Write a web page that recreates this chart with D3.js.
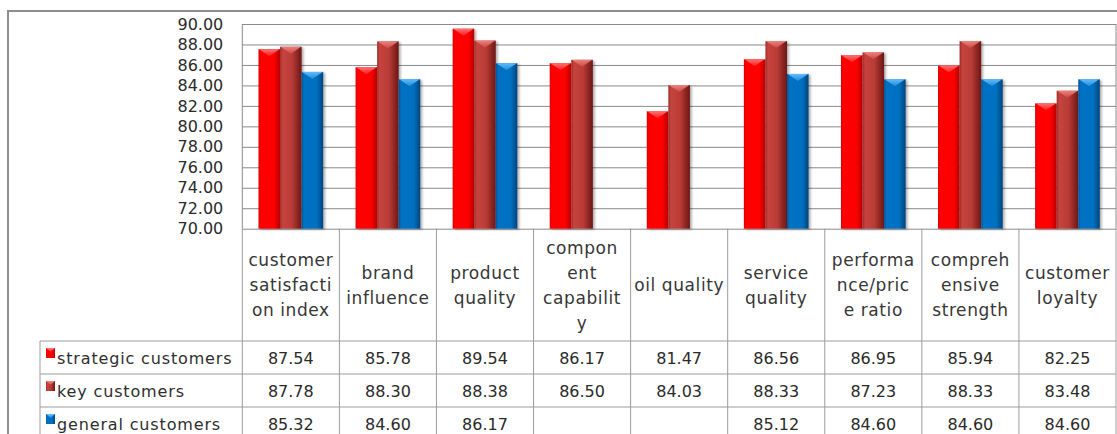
<!DOCTYPE html>
<html>
<head>
<meta charset="utf-8">
<script src="https://cdn.jsdelivr.net/npm/d3@7"></script>
<style>
  html, body { margin: 0; padding: 0; background: #fff; }
  svg { display: block; font-family: "DejaVu Sans", sans-serif; }
</style>
</head>
<body>
<svg id="chart" width="1117" height="434"></svg>
<script>
// ---- data ----
const categories = [
  "customer satisfaction index", "brand influence", "product quality",
  "component capability", "oil quality", "service quality",
  "performance/price ratio", "comprehensive strength", "customer loyalty"
];
// category labels as wrapped in the data-table header
const categoryLines = [
  ["customer", "satisfacti", "on index"],
  ["brand", "influence"],
  ["product", "quality"],
  ["compon", "ent", "capabilit", "y"],
  ["oil quality"],
  ["service", "quality"],
  ["performa", "nce/pric", "e ratio"],
  ["compreh", "ensive", "strength"],
  ["customer", "loyalty"]
];
const seriesNames = ["strategic customers", "key customers", "general customers"];
const strategicCustomers = [87.54, 85.78, 89.54, 86.17, 81.47, 86.56, 86.95, 85.94, 82.25];
const keyCustomers       = [87.78, 88.30, 88.38, 86.50, 84.03, 88.33, 87.23, 88.33, 83.48];
const generalCustomers   = [85.32, 84.60, 86.17, null, null, 85.12, 84.60, 84.60, 84.60];
const yTicks = [70, 72, 74, 76, 78, 80, 82, 84, 86, 88, 90];

const seriesValues = [strategicCustomers, keyCustomers, generalCustomers];

// ---- layout ----
const W = 1117, H = 434;
const plot = { left: 242.3, right: 1116, top: 24, bottom: 228.7 };
const table = { legendLeft: 40, headerBottom: 341, rowH: 33 };

const svg = d3.select("#chart");
const defs = svg.append("defs");

// bar shading per series: body gradient, top bevel colour
const palette = [
  { id: "s0", stops: [["0%", "#d80000"], ["10%", "#ff0000"], ["72%", "#ff0000"], ["100%", "#b40000"]], bevel: ["#ff8080", "#ff2020"] },
  { id: "s1", stops: [["0%", "#9c2a27"], ["12%", "#c6443f"], ["55%", "#b93b36"], ["100%", "#6c1715"]], bevel: ["#f08a85", "#cf4a45"] },
  { id: "s2", stops: [["0%", "#005596"], ["12%", "#0072c4"], ["70%", "#0070c0"], ["100%", "#00447a"]], bevel: ["#70c4ff", "#1a8ee0"] }
];
palette.forEach(p => {
  const g = defs.append("linearGradient").attr("id", "body-" + p.id)
    .attr("x1", "0%").attr("x2", "100%").attr("y1", "0%").attr("y2", "0%");
  p.stops.forEach(([o, c]) => g.append("stop").attr("offset", o).attr("stop-color", c));
  const b = defs.append("linearGradient").attr("id", "bevel-" + p.id)
    .attr("x1", "0%").attr("x2", "0%").attr("y1", "0%").attr("y2", "100%");
  b.append("stop").attr("offset", "0%").attr("stop-color", p.bevel[0]);
  b.append("stop").attr("offset", "100%").attr("stop-color", p.bevel[1]);
});
const shadow = defs.append("filter").attr("id", "barShadow")
  .attr("x", "-30%").attr("y", "-10%").attr("width", "160%").attr("height", "130%");
shadow.append("feDropShadow").attr("dx", 2).attr("dy", 1).attr("stdDeviation", 1.3)
  .attr("flood-color", "#000").attr("flood-opacity", 0.3);

// outer chart frame
svg.append("rect")
  .attr("x", 8).attr("y", 11).attr("width", W + 20).attr("height", H + 20)
  .attr("fill", "#fff").attr("stroke", "#8e8e8e").attr("stroke-width", 2);

// ---- scales ----
const x = d3.scaleBand().domain(categories).range([plot.left, plot.right]).paddingInner(0).paddingOuter(0);
const xs = d3.scaleBand().domain(seriesNames).range([0, x.bandwidth()]).paddingInner(0).paddingOuter(0.75);
const y = d3.scaleLinear().domain([70, 90]).range([plot.bottom, plot.top]);

// gridlines
const grid = svg.append("g").attr("transform", `translate(${plot.left},0)`)
  .call(d3.axisLeft(y).tickValues(yTicks).tickSize(-(plot.right - plot.left)).tickFormat(""));
grid.select(".domain").remove();
grid.selectAll(".tick line").attr("stroke", "#8a8a8a").attr("stroke-width", 1);

// y tick labels
const yAxis = svg.append("g").attr("transform", `translate(${plot.left},0)`)
  .call(d3.axisLeft(y).tickValues(yTicks).tickSize(0).tickPadding(19).tickFormat(d3.format(".2f")));
yAxis.select(".domain").remove();
yAxis.selectAll("text")
  .attr("font-family", "DejaVu Sans, sans-serif").attr("font-size", 16).attr("fill", "#2a2a2a");

// plot frame sides
svg.append("line").attr("x1", plot.left).attr("x2", plot.left).attr("y1", plot.top).attr("y2", plot.bottom)
  .attr("stroke", "#8a8a8a");
svg.append("line").attr("x1", plot.right).attr("x2", plot.right).attr("y1", plot.top).attr("y2", plot.bottom)
  .attr("stroke", "#8a8a8a");

// ---- bars ----
const barData = [];
categories.forEach((c, i) => {
  seriesNames.forEach((s, j) => {
    const v = seriesValues[j][i];
    if (v != null) barData.push({ c, s, j, v });
  });
});
const bars = svg.append("g").selectAll("g.bar").data(barData).join("g").attr("class", "bar");
bars.append("rect")
  .attr("x", d => x(d.c) + xs(d.s))
  .attr("y", d => y(d.v))
  .attr("width", xs.bandwidth())
  .attr("height", d => y(70) - y(d.v))
  .attr("fill", d => `url(#body-${palette[d.j].id})`)
  .attr("filter", "url(#barShadow)");
bars.append("path")
  .attr("d", d => {
    const x0 = x(d.c) + xs(d.s), w = xs.bandwidth(), y0 = y(d.v);
    return `M${x0 + 0.5},${y0}L${x0 + w - 0.5},${y0}L${x0 + w / 2},${y0 + 7}Z`;
  })
  .attr("fill", d => `url(#bevel-${palette[d.j].id})`)
  .attr("opacity", 0.9);

// ---- data table ----
const lineColor = "#9c9c9c";
const tbl = svg.append("g");
const tableBottom = table.headerBottom + 3 * table.rowH;
// column separators
[...categories.map(c => x(c)), plot.right].forEach(xx => {
  tbl.append("line").attr("x1", xx).attr("x2", xx).attr("y1", plot.bottom).attr("y2", tableBottom)
    .attr("stroke", lineColor);
});
// row separators
d3.range(3).forEach(r => {
  const yy = table.headerBottom + r * table.rowH;
  tbl.append("line").attr("x1", table.legendLeft).attr("x2", plot.right).attr("y1", yy).attr("y2", yy)
    .attr("stroke", lineColor);
});
tbl.append("line").attr("x1", table.legendLeft).attr("x2", table.legendLeft)
  .attr("y1", table.headerBottom).attr("y2", tableBottom).attr("stroke", lineColor);

// header labels
const lineH = 25;
const headerMid = (plot.bottom + table.headerBottom) / 2 + 0.5;
categories.forEach((c, i) => {
  const lines = categoryLines[i];
  const t = tbl.append("text")
    .attr("text-anchor", "middle")
    .attr("font-size", 17).attr("letter-spacing", 0.6).attr("fill", "#363636");
  lines.forEach((ln, k) => {
    t.append("tspan")
      .attr("x", x(c) + x.bandwidth() / 2)
      .attr("y", headerMid + (k - (lines.length - 1) / 2) * lineH)
      .attr("dominant-baseline", "central")
      .text(ln);
  });
});

// series rows
seriesNames.forEach((s, j) => {
  const top = table.headerBottom + j * table.rowH;
  const cy = top + table.rowH / 2 + 0.5;
  tbl.append("rect")
    .attr("x", 46).attr("y", top + 7).attr("width", 9).attr("height", 10)
    .attr("fill", `url(#body-${palette[j].id})`);
  tbl.append("path")
    .attr("d", `M46,${top + 7}L55,${top + 7}L50.5,${top + 11}Z`)
    .attr("fill", `url(#bevel-${palette[j].id})`);
  tbl.append("text")
    .attr("x", 57).attr("y", cy).attr("dominant-baseline", "central")
    .attr("font-size", 16).attr("letter-spacing", 0.85).attr("fill", "#2e2e2e")
    .text(s);
  categories.forEach((c, i) => {
    const v = seriesValues[j][i];
    if (v == null) return;
    tbl.append("text")
      .attr("x", x(c) + x.bandwidth() / 2).attr("y", cy)
      .attr("text-anchor", "middle").attr("dominant-baseline", "central")
      .attr("font-size", 16).attr("fill", "#2a2a2a")
      .text(d3.format(".2f")(v));
  });
});
</script>
</body>
</html>
